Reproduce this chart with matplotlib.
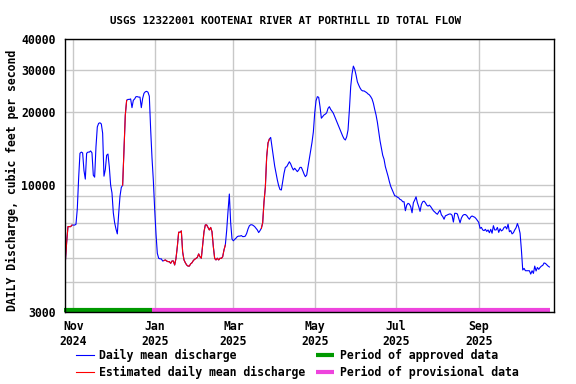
import pandas as pd
import numpy as np
import matplotlib
matplotlib.use("Agg")
import matplotlib.pyplot as plt
from matplotlib.ticker import NullFormatter
from matplotlib.lines import Line2D

# ---- daily mean discharge, cfs ----
start_date = "2024-10-26"
oct24 = [4800, 5800, 6750, 6750, 6750, 6850]
nov24 = [6850, 6850, 6900, 8000, 10700, 13550, 13700, 13600, 11500, 10600,
         13550, 13700, 13700, 13850, 13600, 11000, 10800, 14400, 17400, 18000,
         18100, 17900, 16400, 10900, 11600, 13300, 13450, 11900, 10000, 9300]
dec24 = [7700, 7000, 6600, 6300, 7600, 9000, 9800, 10000, 13800, 19500,
         22400, 22600, 22600, 22700, 20900, 22400, 22700, 23200, 23200, 23100,
         23100, 20900, 22800, 23950, 24300, 24400, 24200, 23300, 17000, 13000,
         10500]
jan25 = [8000, 6300, 5240, 5000, 4970, 4970, 4870, 4890, 4920, 4870,
         4840, 4840, 4765, 4870, 4870, 4690, 4990, 5580, 6400, 6400,
         6480, 5300, 4920, 4790, 4690, 4640, 4640, 4740, 4790, 4890,
         4950]
feb25 = [4990, 5040, 5210, 5070, 5000, 5670, 6430, 6860, 6860, 6700,
         6540, 6700, 6430, 5580, 4990, 4920, 5000, 4920, 5000, 4990,
         5070, 5410, 5670, 6500, 7800, 9200, 7000, 6000]
mar25 = [5900, 5980, 6050, 6140, 6170, 6170, 6200, 6140, 6140, 6170,
         6330, 6600, 6800, 6870, 6870, 6820, 6750, 6640, 6540, 6380,
         6500, 6640, 7000, 8550, 9800, 13100, 14950, 15500, 15750, 14400,
         13120]
apr25 = [12000, 11200, 10510, 9950, 9600, 9560, 10350, 11200, 11850, 11930,
         12200, 12500, 12240, 11850, 11560, 11750, 11560, 11380, 11560, 11850,
         11850, 11500, 11130, 10850, 11020, 11930, 12900, 13980, 15050, 16600]
may25 = [19800, 22300, 23200, 23050, 21090, 18900, 19200, 19500, 19650, 19900,
         20750, 21090, 20550, 20200, 19810, 19200, 18580, 18000, 17440, 16900,
         16380, 15950, 15550, 15370, 15850, 16900, 20400, 25500, 28800, 31000,
         30100]
jun25 = [28500, 26700, 25900, 25200, 24700, 24500, 24500, 24300, 24100, 23800,
         23600, 23200, 22700, 21800, 20550, 19500, 18200, 16700, 15250, 14200,
         13300, 12800, 11930, 11400, 10900, 10350, 9900, 9600, 9300, 9050]
jul25 = [9020, 8930, 8870, 8740, 8690, 8550, 8550, 7850, 8280, 8420,
         8360, 8160, 7700, 8470, 8690, 8960, 8470, 8160, 7800, 8330,
         8550, 8600, 8470, 8280, 8200, 8280, 8160, 8000, 7850, 7760,
         7660]
aug25 = [7590, 7760, 7900, 7550, 7430, 7240, 7480, 7520, 7570, 7610,
         7610, 7520, 7050, 7660, 7660, 7610, 7300, 7000, 7320, 7500,
         7570, 7570, 7500, 7350, 7240, 7400, 7470, 7420, 7380, 7280,
         7160]
sep25 = [7030, 6640, 6700, 6540, 6500, 6580, 6450, 6540, 6370, 6580,
         6340, 6810, 6540, 6540, 6700, 6390, 6620, 6480, 6540, 6700,
         6750, 6600, 6910, 6430, 6500, 6300, 6370, 6540, 6680, 6950]
oct25 = [6700, 6340, 5410, 4470, 4540, 4440, 4440, 4440, 4440, 4300,
         4440, 4330, 4640, 4430, 4580, 4500, 4580, 4640, 4670, 4780,
         4760, 4700, 4640, 4600]

# estimated-value periods (drawn red)
est_periods = [("2024-10-26", "2024-10-31"), ("2024-12-08", "2024-12-11"),
               ("2025-01-08", "2025-02-23"), ("2025-03-22", "2025-03-28")]
approved = ("2024-10-25", "2024-12-30")
provisional = ("2024-12-30", "2025-10-24")

month_ticks = ["2024-11-01", "2025-01-01", "2025-03-01", "2025-05-01",
               "2025-07-01", "2025-09-01"]
month_labels = ["Nov\n2024", "Jan\n2025", "Mar\n2025", "May\n2025",
                "Jul\n2025", "Sep\n2025"]
y_labels = [3000, 10000, 20000, 30000, 40000]
y_grid = [4000, 5000, 6000, 7000, 8000, 9000]

q = np.array(oct24 + nov24 + dec24 + jan25 + feb25 + mar25 + apr25 + may25 +
             jun25 + jul25 + aug25 + sep25 + oct25, dtype=float)
dates = pd.date_range(start_date, periods=len(q), freq="D")
s = pd.Series(q, index=dates)

est = pd.Series(np.nan, index=dates)
for a, b in est_periods:
    est[a:b] = s[a:b]

# ---- plot ----
plt.rcParams['font.family'] = ['DejaVu Sans Mono']
plt.rcParams['font.weight'] = 'bold'
plt.rcParams['font.size'] = 8.3

fig = plt.figure(figsize=(5.76, 3.84), dpi=100)
ax = fig.add_axes([65.3 / 576, 1 - 312 / 384, 489 / 576, 272.7 / 384])

ax.plot(s.index, s.values, color='#0000ff', lw=0.8)
ax.plot(est.index, est.values, color='#ff0000', lw=0.8)

# approved / provisional bars along the bottom
tr = ax.get_xaxis_transform()
half = pd.Timedelta(hours=12)
ax.plot([pd.Timestamp(approved[0]), pd.Timestamp(approved[1])], [0.008, 0.008],
        transform=tr, color='#009900', lw=3, solid_capstyle='butt', clip_on=False)
ax.plot([pd.Timestamp(provisional[0]), pd.Timestamp(provisional[1]) + half],
        [0.008, 0.008], transform=tr, color='#ee44dd', lw=3,
        solid_capstyle='butt', clip_on=False)

ax.set_yscale('log')
ax.set_ylim(3000, 40000)
ax.set_yticks(y_labels)
ax.set_yticklabels([str(v) for v in y_labels])
ax.set_yticks(y_grid, minor=True)
ax.yaxis.set_minor_formatter(NullFormatter())

ax.set_xlim(pd.Timestamp("2024-10-26"), pd.Timestamp("2025-10-27 16:00"))
ax.set_xticks(pd.to_datetime(month_ticks))
ax.set_xticklabels(month_labels)

ax.grid(True, which='both', color='#c8c8c8', lw=1)
ax.set_axisbelow(True)
ax.tick_params(which='both', length=0)
ax.tick_params(axis='y', pad=7)
ax.tick_params(axis='x', pad=6)
for sp in ax.spines.values():
    sp.set_linewidth(1.0)
    sp.set_color('black')

fig.text(0.495, 1 - 20.7 / 384, "USGS 12322001 KOOTENAI RIVER AT PORTHILL ID TOTAL FLOW",
         ha='center', va='center', fontsize=7.8, fontweight='bold')
fig.text(12 / 576, 1 - 180 / 384, "DAILY Discharge, cubic feet per second",
         rotation=90, ha='center', va='center', fontsize=8.3, fontweight='bold')

handles = [Line2D([], [], color='#0000ff', lw=0.8),
           Line2D([], [], color='#ff0000', lw=0.8),
           Line2D([], [], color='#009900', lw=3, solid_capstyle='butt'),
           Line2D([], [], color='#ee44dd', lw=3, solid_capstyle='butt')]
labels = ["Daily mean discharge", "Estimated daily mean discharge",
          "Period of approved data", "Period of provisional data"]
fig.legend(handles, labels, ncol=2, loc='upper left',
           bbox_to_anchor=(75.6 / 576, 1 - 349 / 384), frameon=False,
           borderpad=0, borderaxespad=0, handlelength=1.56, handletextpad=0.5,
           columnspacing=0.9, labelspacing=0.35)

fig.savefig("out.png", dpi=100)
